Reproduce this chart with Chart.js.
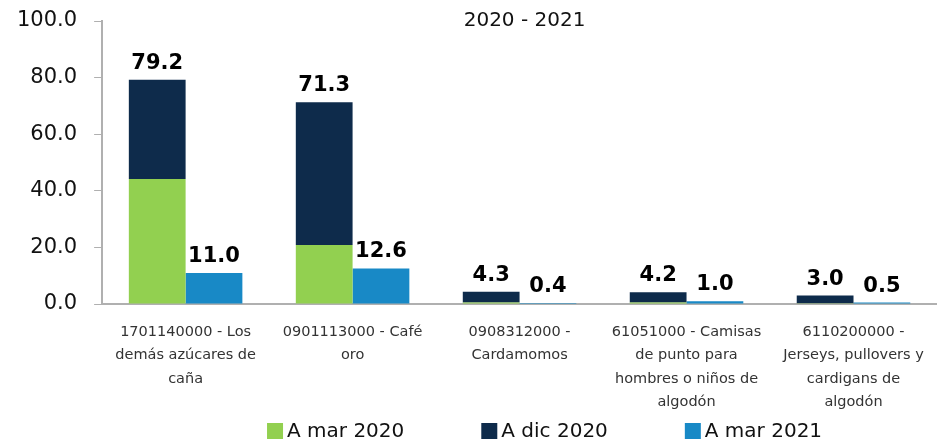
<!DOCTYPE html>
<html>
<head>
<meta charset="utf-8">
<script src="https://cdn.jsdelivr.net/npm/chart.js@4"></script>
<style>
    body { margin: 0; background: #fff; }
    #wrap { width: 937px; height: 440px; }
</style>
</head>
<body>
<div id="wrap"><canvas id="chart" width="937" height="440"></canvas></div>
<script>
const categories = [
    ['1701140000 - Los', 'demás azúcares de', 'caña'],
    ['0901113000 - Café', 'oro'],
    ['0908312000 -', 'Cardamomos'],
    ['61051000 - Camisas', 'de punto para', 'hombres o niños de', 'algodón'],
    ['6110200000 -', 'Jerseys, pullovers y', 'cardigans de', 'algodón']
];
const marzo2020 = [44.2, 20.9, 0.5, 0.5, 0.3];
const diciembre2020 = [35.0, 50.4, 3.8, 3.7, 2.7];
const totales2020 = [79.2, 71.3, 4.3, 4.2, 3.0];
const marzo2021 = [11.0, 12.6, 0.4, 1.0, 0.5];
const yTicks = [0, 20, 40, 60, 80, 100];
const chartTitle = '2020 - 2021';

const FONT = "'DejaVu Sans', sans-serif";

// etiquetas de valor, titulo y leyenda dibujados a mano
const extras = {
    id: 'extras',
    afterDatasetsDraw(chart) {
        const ctx = chart.ctx;
        const area = chart.chartArea;
        ctx.save();
        ctx.fillStyle = '#000';
        ctx.font = 'bold 21px ' + FONT;
        ctx.textAlign = 'center';
        ctx.textBaseline = 'bottom';
        const dic = chart.getDatasetMeta(1);
        const m21 = chart.getDatasetMeta(2);
        totales2020.forEach((t, i) => {
            const bar = dic.data[i];
            ctx.fillText(t.toFixed(1), bar.x, bar.y - 6);
        });
        marzo2021.forEach((v, i) => {
            const bar = m21.data[i];
            ctx.fillText(v.toFixed(1), bar.x, bar.y - 6);
        });

        ctx.font = '20px ' + FONT;
        ctx.textBaseline = 'middle';
        ctx.fillStyle = '#111';
        ctx.fillText(chartTitle, (area.left + area.right) / 2 + 5, 21);

        // leyenda
        const items = chart.data.datasets;
        const gap = 77, box = 16;
        ctx.textAlign = 'left';
        const widths = items.map(d => box + 4 + ctx.measureText(d.label).width);
        const total = widths.reduce((a, b) => a + b, 0) + gap * (items.length - 1);
        let x = (area.left + area.right) / 2 + 25 - total / 2;
        const y = chart.height - 9;
        items.forEach((d, i) => {
            ctx.fillStyle = d.backgroundColor;
            ctx.fillRect(x, y - box / 2, box, box);
            ctx.fillStyle = '#111';
            ctx.fillText(d.label, x + box + 4, y + 1);
            x += widths[i] + gap;
        });
        ctx.restore();
    }
};

new Chart(document.getElementById('chart').getContext('2d'), {
    type: 'bar',
    data: {
        labels: categories,
        datasets: [
            { label: 'A mar 2020', data: marzo2020, backgroundColor: '#92d050', stack: 'a' },
            { label: 'A dic 2020', data: diciembre2020, backgroundColor: '#0e2b4b', stack: 'a' },
            { label: 'A mar 2021', data: marzo2021, backgroundColor: '#1889c6', stack: 'b' }
        ]
    },
    options: {
        responsive: false,
        animation: false,
        layout: { padding: { top: 0, right: -3, left: 0, bottom: 18 } },
        datasets: {
            bar: { categoryPercentage: 0.68, barPercentage: 1.0 }
        },
        scales: {
            x: {
                stacked: true,
                grid: { display: false },
                border: { color: '#b0b0b0', width: 2 },
                ticks: {
                    color: '#333',
                    font: { family: FONT, size: 14.5, lineHeight: 1.62 },
                    maxRotation: 0,
                    autoSkip: false,
                    padding: 8
                }
            },
            y: {
                stacked: true,
                min: 0,
                max: 100,
                afterBuildTicks: (axis) => { axis.ticks = yTicks.map(v => ({ value: v })); },
                afterFit: (axis) => { axis.paddingTop = 21; },
                grid: { drawOnChartArea: false, drawTicks: true, tickLength: 8, color: '#b0b0b0' },
                border: { color: '#b0b0b0', width: 2 },
                ticks: {
                    color: '#111',
                    font: { family: FONT, size: 21 },
                    padding: 17,
                    callback: (v) => Number(v).toFixed(1)
                }
            }
        },
        plugins: {
            legend: { display: false },
            tooltip: { enabled: false }
        }
    },
    plugins: [extras]
});
</script>
</body>
</html>
